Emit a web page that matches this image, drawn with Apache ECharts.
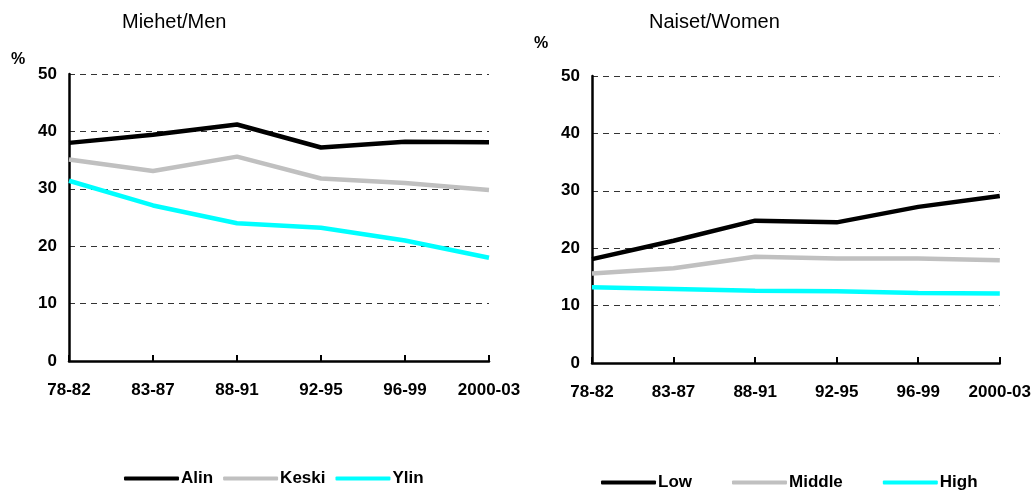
<!DOCTYPE html>
<html><head><meta charset="utf-8">
<script src="https://cdn.jsdelivr.net/npm/echarts@6/dist/echarts.min.js"></script>
<style>html,body{margin:0;padding:0;background:#fff}#c{width:1034px;height:490px}</style>
</head><body><div id="c"></div>
<script>
const periods = ['78-82','83-87','88-91','92-95','96-99','2000-03'];
const yTicks = [0,10,20,30,40,50];
const menAlin  = [38.0, 39.4, 41.2, 37.2, 38.2, 38.1];
const menKeski = [35.1, 33.1, 35.6, 31.8, 31.0, 29.8];
const menYlin  = [31.4, 27.1, 24.0, 23.2, 21.0, 18.0];
const womenLow    = [18.1, 21.3, 24.8, 24.5, 27.2, 29.1];
const womenMiddle = [15.6, 16.5, 18.5, 18.2, 18.2, 17.9];
const womenHigh   = [13.2, 12.9, 12.6, 12.5, 12.2, 12.1];
const colors = ['#000000','#c0c0c0','#00ffff'];
const FONT = '"Liberation Sans", Arial, sans-serif';

const chart = echarts.init(document.getElementById('c'));
function xAxis(gi){return {type:'category',gridIndex:gi,data:periods,boundaryGap:false,
  axisLine:{lineStyle:{color:'#000',width:2.5}},
  axisTick:{inside:true,length:6,lineStyle:{color:'#000',width:2}},
  axisLabel:{color:'#000',fontFamily:FONT,fontWeight:'bold',fontSize:17,margin:21}};}
function yAxis(gi){return {type:'value',gridIndex:gi,min:yTicks[0],max:yTicks[yTicks.length-1],interval:10,
  axisLine:{show:true,lineStyle:{color:'#000',width:2.5}},axisTick:{show:false},
  splitLine:{lineStyle:{color:'#333',type:[6,5],width:1}},
  axisLabel:{color:'#000',fontFamily:FONT,fontWeight:'bold',fontSize:17,margin:12}};}
function line(name,data,gi,c){return {name,type:'line',xAxisIndex:gi,yAxisIndex:gi,data,symbol:'none',
  lineStyle:{color:c,width:4.5},itemStyle:{color:c},z:3};}
const legendBase = {icon:'roundRect',itemWidth:55,itemHeight:4,
  textStyle:{color:'#000',fontFamily:FONT,fontWeight:'bold',fontSize:17,padding:[0,0,0,-3]}};
chart.setOption({
  animation:false,
  grid:[{left:69,right:545,top:74,bottom:129},{left:592,right:34,top:76,bottom:127}],
  xAxis:[xAxis(0),xAxis(1)],
  yAxis:[yAxis(0),yAxis(1)],
  legend:[
    Object.assign({},legendBase,{left:119,top:465,itemGap:10,data:['Alin','Keski','Ylin']}),
    Object.assign({},legendBase,{left:596,top:469,itemGap:40,data:['Low','Middle','High']})
  ],
  graphic:[
    {type:'text',left:122,top:12,style:{text:'Miehet/Men',font:'20px '+FONT,fill:'#000'}},
    {type:'text',left:649,top:12,style:{text:'Naiset/Women',font:'20px '+FONT,fill:'#000'}},
    {type:'text',left:11,top:52,style:{text:'%',font:'bold 16px '+FONT,fill:'#000'}},
    {type:'text',left:534,top:36,style:{text:'%',font:'bold 16px '+FONT,fill:'#000'}}
  ],
  series:[
    line('Alin',menAlin,0,colors[0]),line('Keski',menKeski,0,colors[1]),line('Ylin',menYlin,0,colors[2]),
    line('Low',womenLow,1,colors[0]),line('Middle',womenMiddle,1,colors[1]),line('High',womenHigh,1,colors[2])
  ]
});
</script></body></html>
